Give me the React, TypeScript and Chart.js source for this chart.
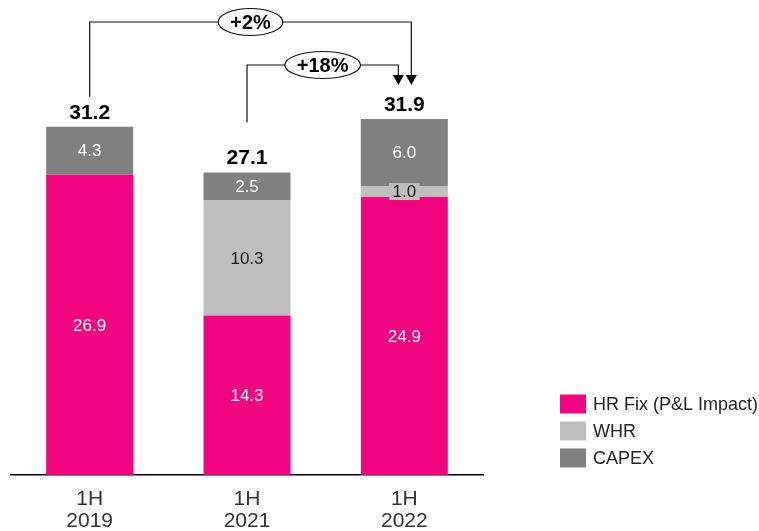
import React, { useEffect, useRef } from 'react';
import { Chart, registerables } from 'chart.js';

Chart.register(...registerables);

const categories = [['1H', '2019'], ['1H', '2021'], ['1H', '2022']];
const hrFix = [26.9, 14.3, 24.9];
const whr = [null, 10.3, 1.0];
const capex = [4.3, 2.5, 6.0];
const totals = [31.2, 27.1, 31.9];
const seriesLabels = ['HR Fix (P&L Impact)', 'WHR', 'CAPEX'];
const seriesColors = ['#F0047F', '#BFBFBF', '#808080'];
const labelColors = ['#FFFFFF', '#1A1A1A', '#FFFFFF'];
const changeFrom = [0, 1];
const changeTo = [2, 2];
const changeLabels = ['+2%', '+18%'];

const FONT = '"Liberation Sans", Arial, Helvetica, sans-serif';

// layout constants for the change brackets
const bracketY = [22, 65];
const bracketStartGap = [30, 50];
const bracketEndDx = [7, -6];

const overlayPlugin = {
  id: 'overlay',
  afterDatasetsDraw(chart: any) {
    const ctx = chart.ctx as CanvasRenderingContext2D;
    const xs = chart.scales.x;
    const ys = chart.scales.y;
    ctx.save();

    // segment value labels
    chart.data.datasets.forEach((ds: any, di: number) => {
      const meta = chart.getDatasetMeta(di);
      meta.data.forEach((el: any, i: number) => {
        const v = ds.data[i];
        if (v == null) return;
        const p = el.getProps(['x', 'y', 'base'], true);
        const cy = (p.y + p.base) / 2;
        const text = Number(v).toFixed(1);
        ctx.font = `17px ${FONT}`;
        ctx.textAlign = 'center';
        ctx.textBaseline = 'middle';
        const h = Math.abs(p.base - p.y);
        if (h < 18) {
          const w = ctx.measureText(text).width + 7;
          ctx.fillStyle = ds.backgroundColor;
          ctx.fillRect(p.x - w / 2, cy - 8.5, w, 17);
        }
        ctx.fillStyle = labelColors[di];
        ctx.fillText(text, p.x, cy + 1);
      });
    });

    // totals
    ctx.font = `bold 21px ${FONT}`;
    ctx.fillStyle = '#000';
    ctx.textAlign = 'center';
    ctx.textBaseline = 'middle';
    totals.forEach((t, i) => {
      ctx.fillText(t.toFixed(1), xs.getPixelForValue(i), ys.getPixelForValue(t) - 14);
    });

    // change brackets
    changeLabels.forEach((lbl, k) => {
      const x1 = xs.getPixelForValue(changeFrom[k]);
      const y1 = ys.getPixelForValue(totals[changeFrom[k]]) - bracketStartGap[k];
      const x2 = xs.getPixelForValue(changeTo[k]) + bracketEndDx[k];
      const tip = ys.getPixelForValue(totals[changeTo[k]]) - 34;
      const ly = bracketY[k];
      ctx.strokeStyle = '#111';
      ctx.lineWidth = 1.2;
      ctx.beginPath();
      ctx.moveTo(x1, y1);
      ctx.lineTo(x1, ly);
      ctx.lineTo(x2, ly);
      ctx.lineTo(x2, tip - 8);
      ctx.stroke();
      ctx.fillStyle = '#000';
      ctx.beginPath();
      ctx.moveTo(x2 - 5.5, tip - 10);
      ctx.lineTo(x2 + 5.5, tip - 10);
      ctx.lineTo(x2, tip);
      ctx.closePath();
      ctx.fill();

      const cx = (x1 + x2) / 2;
      ctx.font = `bold 20px ${FONT}`;
      const tw = ctx.measureText(lbl).width;
      ctx.beginPath();
      ctx.ellipse(cx, ly, tw / 2 + 12, 13.5, 0, 0, Math.PI * 2);
      ctx.fillStyle = '#fff';
      ctx.fill();
      ctx.stroke();
      ctx.fillStyle = '#000';
      ctx.textAlign = 'center';
      ctx.textBaseline = 'middle';
      ctx.fillText(lbl, cx, ly + 1);
    });

    // legend
    const lx = 560;
    const rowY = [404, 431, 458];
    chart.data.datasets.forEach((ds: any, di: number) => {
      ctx.fillStyle = ds.backgroundColor;
      ctx.fillRect(lx, rowY[di] - 9.5, 26, 19);
      ctx.fillStyle = '#222';
      ctx.font = `18px ${FONT}`;
      ctx.textAlign = 'left';
      ctx.textBaseline = 'middle';
      ctx.fillText(ds.label, lx + 33, rowY[di] + 1);
    });

    ctx.restore();
  },
};

export default function App() {
  const ref = useRef<HTMLCanvasElement | null>(null);
  useEffect(() => {
    if (!ref.current) return;
    const seriesData = [hrFix, whr, capex];
    const chart = new Chart(ref.current, {
      type: 'bar',
      data: {
        labels: categories as any,
        datasets: seriesData.map((d, i) => ({
          label: seriesLabels[i],
          data: d as any,
          backgroundColor: seriesColors[i],
          borderWidth: 0,
          categoryPercentage: 1,
          barPercentage: 0.553,
        })),
      },
      options: {
        responsive: false,
        animation: false,
        devicePixelRatio: 1,
        layout: { padding: { left: 11, right: 276, top: 28.6, bottom: 0 } },
        plugins: { legend: { display: false }, tooltip: { enabled: false } },
        scales: {
          x: {
            stacked: true,
            grid: { display: false },
            border: { display: true, color: '#000', width: 1.5 },
            ticks: {
              color: '#333',
              font: { family: FONT, size: 21, lineHeight: '22px' as any },
              padding: 5,
              maxRotation: 0,
              autoSkip: false,
            },
            afterFit: (s: any) => {
              s.height = 56;
            },
          },
          y: { stacked: true, display: false, min: 0, max: 40 },
        },
      },
      plugins: [overlayPlugin],
    });
    return () => chart.destroy();
  }, []);
  return (
    <div style={{ position: 'absolute', left: 0, top: 0, width: 759, height: 531, background: '#fff' }}>
      <canvas ref={ref} width={759} height={531} />
    </div>
  );
}
